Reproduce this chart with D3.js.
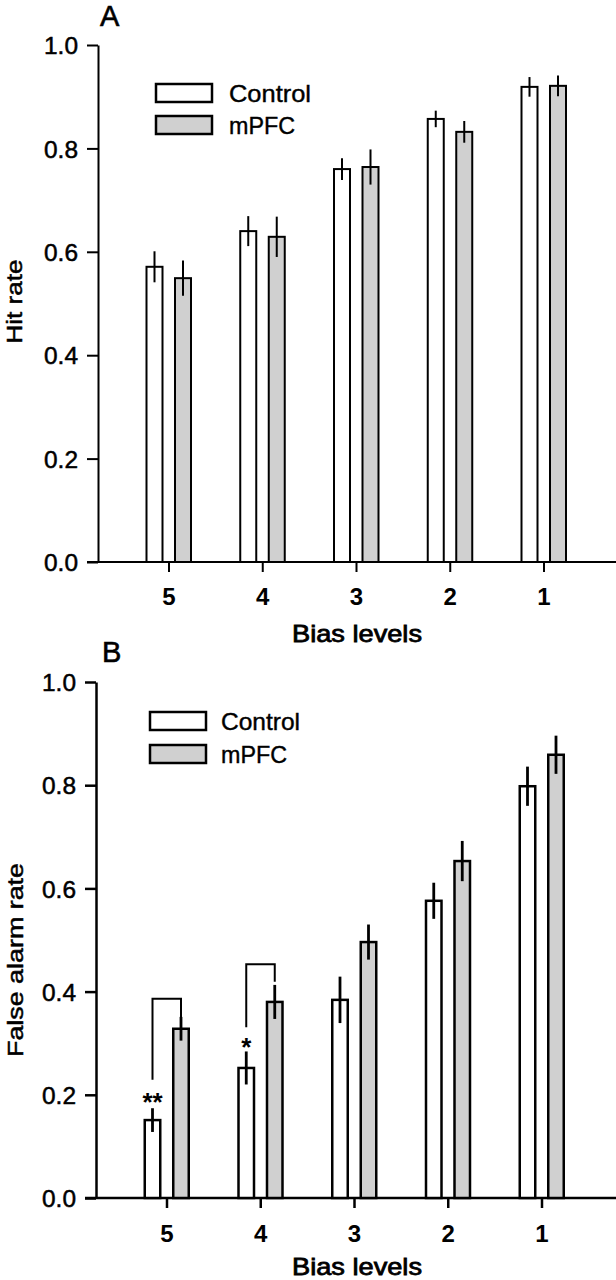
<!DOCTYPE html>
<html>
<head>
<meta charset="utf-8">
<script src="https://cdn.jsdelivr.net/npm/d3@7"></script>
<style>
  html, body { margin: 0; padding: 0; background: #fff; }
  svg { display: block; }
  text { font-family: "Liberation Sans", Arial, sans-serif; fill: #000; }
</style>
</head>
<body>
<svg id="chart" width="616" height="1280"></svg>
<script>
// ---------------- DATA ----------------
const categories = ["5", "4", "3", "2", "1"];
const seriesNames = ["Control", "mPFC"];
const yTicks = [0, 0.2, 0.4, 0.6, 0.8, 1.0];

// Panel A: Hit rate
const hitControl    = [0.571, 0.640, 0.760, 0.857, 0.919];
const hitControlErr = [0.030, 0.029, 0.021, 0.016, 0.019];
const hitMPFC       = [0.549, 0.629, 0.764, 0.832, 0.921];
const hitMPFCErr    = [0.034, 0.039, 0.034, 0.021, 0.020];

// Panel B: False alarm rate
const faControl    = [0.151, 0.252, 0.384, 0.576, 0.798];
const faControlErr = [0.023, 0.032, 0.045, 0.035, 0.038];
const faMPFC       = [0.328, 0.380, 0.496, 0.653, 0.859];
const faMPFCErr    = [0.023, 0.033, 0.034, 0.039, 0.037];

// Significance brackets in panel B
const sigGroups  = ["5", "4"];
const sigLabels  = ["**", "*"];
const sigLevel   = [0.386, 0.453];   // bracket top
const sigLeftEnd = [0.229, 0.331];   // left leg bottom
const sigRightEnd= [0.349, 0.419];   // right leg bottom
const sigStarY   = [0.200, 0.306];   // star vertical position

// ---------------- DRAW ----------------
const svg = d3.select("#chart");
const GRAY = "#d0d0d0";
const FONT = "Liberation Sans, Arial, sans-serif";

function drawPanel(o) {
  const g = svg.append("g");
  const x = d3.scalePoint().domain(categories).range(o.xRange).padding(0.752);
  const y = d3.scaleLinear().domain([0, 1]).range(o.yRange);

  // y axis
  const yAxis = d3.axisLeft(y).tickValues(yTicks).tickFormat(d3.format(".1f"))
    .tickSize(11).tickSizeOuter(0).tickPadding(9);
  const ya = g.append("g").attr("transform", `translate(${o.xRange[0]},0)`).call(yAxis)
    .attr("font-size", null).attr("font-family", null);
  ya.select(".domain").attr("stroke", "#000").attr("stroke-width", o.axisW);
  ya.selectAll(".tick line").attr("stroke", "#000").attr("stroke-width", o.axisW);
  ya.selectAll(".tick text").attr("font-size", 24).attr("font-family", FONT)
    .attr("stroke", "#000").attr("stroke-width", 0.5)
    .attr("textLength", 34).attr("lengthAdjust", "spacingAndGlyphs")
    .attr("dy", "0.36em").attr("fill", "#000");

  // x axis
  const xAxis = d3.axisBottom(x).tickSize(10).tickSizeOuter(0).tickPadding(14);
  const xa = g.append("g").attr("transform", `translate(0,${y(0)})`).call(xAxis)
    .attr("font-size", null).attr("font-family", null);
  xa.select(".domain").remove();
  xa.selectAll(".tick line").attr("stroke", "#000").attr("stroke-width", o.axisW);
  xa.selectAll(".tick text").attr("font-size", 24).attr("font-weight", "bold")
    .attr("font-family", FONT).attr("fill", "#000")
    .attr("dy", null).attr("y", o.xLabelBase - y(0));
  g.append("line").attr("x1", o.xRange[0] - 11).attr("x2", 616)
    .attr("y1", y(0)).attr("y2", y(0)).attr("stroke", "#000").attr("stroke-width", o.axisW);

  // bars
  const series = [
    { name: seriesNames[0], vals: o.ctrl, errs: o.ctrlErr, fill: "#fff", off: -14 },
    { name: seriesNames[1], vals: o.mpfc, errs: o.mpfcErr, fill: GRAY, off: 14.5 }
  ];
  const bw = 18;
  series.forEach(s => {
    const sg = g.append("g");
    sg.selectAll("rect").data(categories).join("rect")
      .attr("x", (c) => x(c) + s.off - (bw - o.barSW) / 2)
      .attr("width", bw - o.barSW)
      .attr("y", (c, i) => y(s.vals[i]))
      .attr("height", (c, i) => y(0) - y(s.vals[i]))
      .attr("fill", s.fill).attr("stroke", "#000").attr("stroke-width", o.barSW);
    sg.selectAll("line").data(categories).join("line")
      .attr("x1", c => x(c) + s.off).attr("x2", c => x(c) + s.off)
      .attr("y1", (c, i) => y(s.vals[i] + s.errs[i]))
      .attr("y2", (c, i) => y(s.vals[i] - s.errs[i]))
      .attr("stroke", "#000").attr("stroke-width", o.errW);
  });

  // legend
  const lg = g.append("g");
  seriesNames.forEach((n, i) => {
    const fill = i === 0 ? "#fff" : GRAY;
    lg.append("rect").attr("x", o.legX).attr("y", o.legY[i])
      .attr("width", 56).attr("height", 18)
      .attr("fill", fill).attr("stroke", "#000").attr("stroke-width", 2.5);
    lg.append("text").attr("x", o.legTextX).attr("y", o.legY[i] + 18)
      .attr("font-size", 24).attr("stroke", "#000").attr("stroke-width", 0.4)
      .attr("textLength", i === 0 ? o.ctrlLen : 66).attr("lengthAdjust", "spacingAndGlyphs")
      .text(n);
  });

  // x title
  g.append("text").attr("x", 292).attr("y", o.xTitleBase)
    .attr("font-size", 24).attr("stroke", "#000").attr("stroke-width", 0.8)
    .attr("textLength", 130).attr("lengthAdjust", "spacingAndGlyphs")
    .text("Bias levels");

  // y title
  g.append("text")
    .attr("transform", `translate(${o.yTitleX},${o.yTitleY}) rotate(-90)`)
    .attr("text-anchor", "middle").attr("font-size", 22)
    .attr("stroke", "#000").attr("stroke-width", 0.5)
    .attr("textLength", o.yTitleLen).attr("lengthAdjust", "spacingAndGlyphs")
    .text(o.yTitle);

  // panel letter
  g.append("text").attr("x", o.letterX).attr("y", o.letterY)
    .attr("font-size", 29).attr("font-family", "DejaVu Sans, sans-serif")
    .attr("stroke", "#000").attr("stroke-width", 0.6)
    .text(o.letter);

  return { g, x, y };
}

drawPanel({
  xRange: [98, 614], yRange: [562, 45],
  ctrl: hitControl, ctrlErr: hitControlErr, mpfc: hitMPFC, mpfcErr: hitMPFCErr,
  axisW: 2, barSW: 2, errW: 2,
  xLabelBase: 605, xTitleBase: 642,
  legX: 156, legY: [84, 116], legTextX: 229, ctrlLen: 82,
  yTitle: "Hit rate", yTitleX: 22, yTitleY: 301.5, yTitleLen: 84,
  letter: "A", letterX: 100, letterY: 26
});

const pB = drawPanel({
  xRange: [96, 612], yRange: [1198, 682],
  ctrl: faControl, ctrlErr: faControlErr, mpfc: faMPFC, mpfcErr: faMPFCErr,
  axisW: 2.5, barSW: 2.5, errW: 2.8,
  xLabelBase: 1242, xTitleBase: 1275,
  legX: 150, legY: [712, 745], legTextX: 221, ctrlLen: 79,
  yTitle: "False alarm rate", yTitleX: 23, yTitleY: 960, yTitleLen: 194,
  letter: "B", letterX: 102, letterY: 662
});

// significance brackets
const sg = pB.g.append("g");
sigGroups.forEach((c, i) => {
  const xl = pB.x(c) - 14, xr = pB.x(c) + 14.5;
  const yt = pB.y(sigLevel[i]);
  sg.append("path")
    .attr("d", `M${xl},${pB.y(sigLeftEnd[i])}V${yt}H${xr}V${pB.y(sigRightEnd[i])}`)
    .attr("fill", "none").attr("stroke", "#000").attr("stroke-width", 2);
  sg.append("text").attr("x", xl).attr("y", pB.y(sigStarY[i]) + 16)
    .attr("text-anchor", "middle").attr("font-size", 26).attr("font-weight", "bold")
    .text(sigLabels[i]);
});
</script>
</body>
</html>
